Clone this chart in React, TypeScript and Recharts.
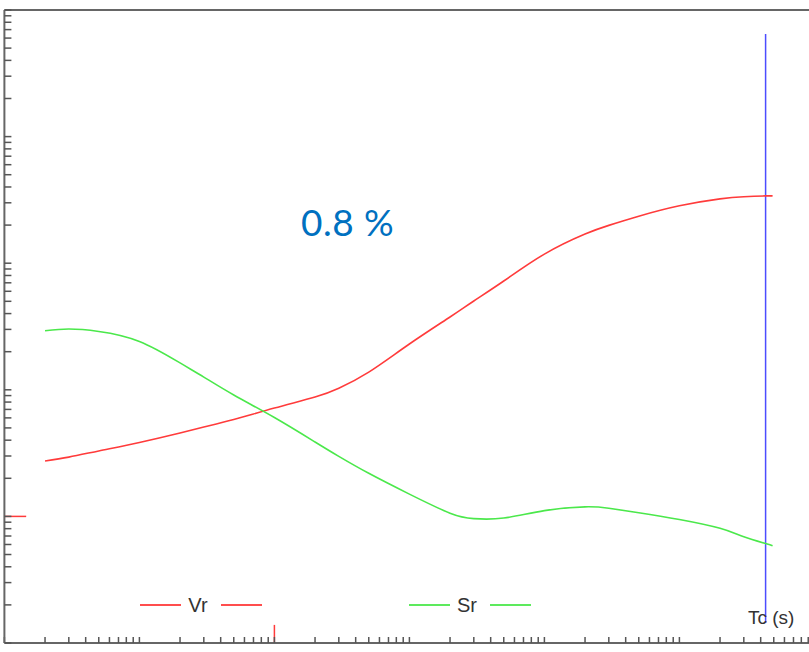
import { LineChart, Line, XAxis, YAxis, ReferenceLine } from 'recharts';

// period axis (s) and the two curves
const tValues = [0.002, 0.003, 0.005, 0.01, 0.02, 0.03, 0.05, 0.1, 0.2, 0.3, 0.5, 1, 2, 3, 5, 10, 20, 30, 50, 100, 200, 300, 435, 490];
const vrValues = [0.274, 0.294, 0.329, 0.384, 0.456, 0.508, 0.582, 0.718, 0.877, 1.03, 1.38, 2.3, 3.76, 5.03, 7.23, 11.8, 17.0, 19.9, 23.5, 28.4, 32.2, 33.5, 34.0, 34.0];
const srValues = [2.93, 3.02, 2.89, 2.41, 1.63, 1.26, 0.91, 0.604, 0.387, 0.298, 0.219, 0.15, 0.106, 0.096, 0.097, 0.111, 0.119, 0.116, 0.107, 0.0945, 0.0805, 0.0691, 0.0611, 0.0587];

const xDecades = [0.001, 0.01, 0.1, 1, 10, 100];
const yDecades = [0.01, 0.1, 1, 10, 100];
const multipliers = [1, 2, 3, 4, 5, 6, 7, 8, 9];

const xDomain = [0.001, 1000];
const yDomain = [0.01, 1000];

const tcValue = 435;
const tcLineRange = [0.0144, 646];
const markerX = 0.1;
const markerY = 0.1;
const dampingLabel = '0.8 %';

const series = [
  { key: 'vr', name: 'Vr', color: '#ff3b3b', center: 201 },
  { key: 'sr', name: 'Sr', color: '#4be84b', center: 470 },
];

const data = tValues.map((t, i) => ({ t, vr: vrValues[i], sr: srValues[i] }));
const xTicks = [...xDecades.flatMap((d) => multipliers.map((m) => d * m)), 1000];
const yTicks = [...yDecades.flatMap((d) => multipliers.map((m) => d * m)), 1000];

const axisColor = '#666';
const font = '"Liberation Sans", Arial, sans-serif';

export default function App() {
  return (
    <div style={{ position: 'absolute', left: 0, top: 0, width: 809, height: 652, overflow: 'hidden', background: '#fff' }}>
      <LineChart width={830} height={652} data={data} margin={{ top: 10, right: 15.6, bottom: 9, left: 4.4 }}>
        <XAxis
          dataKey="t"
          type="number"
          scale="log"
          domain={xDomain}
          allowDataOverflow
          ticks={xTicks}
          interval={0}
          mirror
          tickSize={6}
          tickFormatter={() => ''}
          axisLine={{ stroke: axisColor, strokeWidth: 2 }}
          tickLine={{ stroke: '#555', strokeWidth: 1.5 }}
        />
        <YAxis
          type="number"
          scale="log"
          domain={yDomain}
          allowDataOverflow
          ticks={yTicks}
          interval={0}
          mirror
          width={1}
          tickSize={7}
          tickFormatter={() => ''}
          axisLine={{ stroke: axisColor, strokeWidth: 2 }}
          tickLine={{ stroke: '#555', strokeWidth: 1.5 }}
        />
        <ReferenceLine y={1000} stroke={axisColor} strokeWidth={2} />
        <ReferenceLine
          segment={[{ x: xDomain[0], y: markerY }, { x: 0.00145, y: markerY }]}
          stroke="#ff3b3b"
          strokeWidth={1.5}
        />
        <ReferenceLine
          segment={[{ x: markerX, y: yDomain[0] }, { x: markerX, y: 0.0139 }]}
          stroke="#ff3b3b"
          strokeWidth={1.5}
        />
        <ReferenceLine
          segment={[{ x: tcValue, y: tcLineRange[0] }, { x: tcValue, y: tcLineRange[1] }]}
          stroke="#4d4dff"
          strokeWidth={1.5}
        />
        {series.map((s) => (
          <Line
            key={s.key}
            type="natural"
            dataKey={s.key}
            name={s.name}
            stroke={s.color}
            strokeWidth={1.6}
            dot={false}
            activeDot={false}
            isAnimationActive={false}
          />
        ))}
      </LineChart>

      <div
        style={{
          position: 'absolute',
          left: 301,
          top: 204,
          fontFamily: 'Lato, "Open Sans", sans-serif',
          fontSize: 37,
          lineHeight: '36px',
          letterSpacing: 0.5,
          color: '#0070c0',
          whiteSpace: 'nowrap',
        }}
      >
        {dampingLabel}
      </div>

      {series.map((s) => (
        <div
          key={s.key}
          style={{
            position: 'absolute',
            left: s.center - 61,
            top: 595,
            width: 122,
            height: 20,
            display: 'flex',
            alignItems: 'center',
          }}
        >
          <div style={{ width: 41, height: 2, background: s.color, opacity: 0.9 }} />
          <div
            style={{
              width: 40,
              textAlign: 'center',
              paddingRight: 6,
              boxSizing: 'border-box',
              fontFamily: font,
              fontSize: 20,
              lineHeight: '20px',
              color: '#333',
            }}
          >
            {s.name}
          </div>
          <div style={{ width: 41, height: 2, background: s.color, opacity: 0.9 }} />
        </div>
      ))}

      <div
        style={{
          position: 'absolute',
          left: 748,
          top: 608,
          fontFamily: font,
          fontSize: 19,
          lineHeight: '19px',
          color: '#333',
          whiteSpace: 'nowrap',
        }}
      >
        Tc (s)
      </div>
    </div>
  );
}
